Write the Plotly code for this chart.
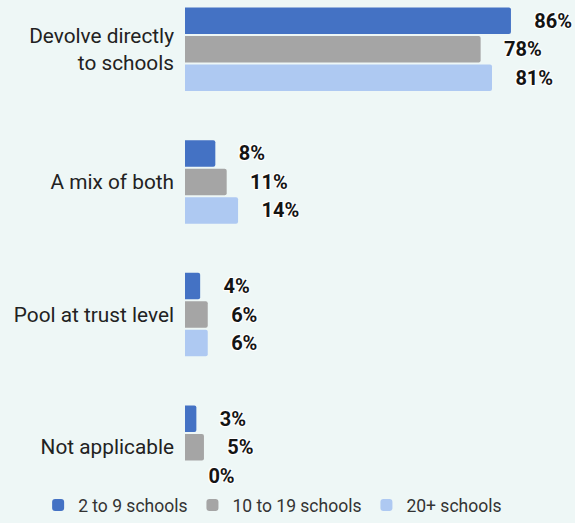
import plotly.graph_objects as go

# Funding approach by trust size (share of respondents, %)
categories = ["Devolve directly<br>to schools", "A mix of both", "Pool at trust level", "Not applicable"]
series_names = ["2 to 9 schools", "10 to 19 schools", "20+ schools"]
small_trusts = [86, 8, 4, 3]
medium_trusts = [78, 11, 6, 5]
large_trusts = [81, 14, 6, 0]

series_values = [small_trusts, medium_trusts, large_trusts]
series_colors = ["#4472C4", "#A5A5A5", "#AEC9F2"]
bg = "#EEF7F6"

label_shadow = ("1px 1px 1px #fff, -1px -1px 1px #fff, 1px -1px 1px #fff, "
                "-1px 1px 1px #fff, 0 0 2px #fff")

fig = go.Figure()
for name, vals, col in zip(series_names, series_values, series_colors):
    fig.add_trace(go.Bar(
        name=name,
        y=categories,
        x=vals,
        orientation="h",
        marker=dict(color=col, cornerradius=2, line=dict(width=0)),
        text=[f"\u2002\u2005\u2005{v}%" for v in vals],
        textposition="outside",
        constraintext="none",
        cliponaxis=False,
        textfont=dict(family="Roboto", size=20, color="#141414",
                      weight="bold", shadow=label_shadow),
    ))

bottom_margin = 40
plot_h = 523 - bottom_margin

fig.update_layout(
    width=575,
    height=523,
    barmode="group",
    bargap=0.355,
    bargroupgap=0.07,
    paper_bgcolor=bg,
    plot_bgcolor=bg,
    margin=dict(l=185, r=0, t=0, b=bottom_margin),
    font=dict(family="Roboto", size=20.8, color="#222222"),
    xaxis=dict(range=[0, 102.9], visible=False, fixedrange=True),
    yaxis=dict(
        range=[3.27, -0.372],
        showgrid=False,
        zeroline=False,
        showline=False,
        ticks="",
        ticklabelstandoff=10,
        tickfont=dict(family="Roboto", size=20.8, color="#222222"),
    ),
    legend=dict(
        orientation="h",
        x=-0.3766,
        xanchor="left",
        y=-bottom_margin / plot_h,
        yanchor="bottom",
        font=dict(family="Roboto", size=17.5, color="#333333"),
        traceorder="normal",
        bgcolor="rgba(0,0,0,0)",
    ),
    showlegend=True,
)

fig.write_html("out.html")
